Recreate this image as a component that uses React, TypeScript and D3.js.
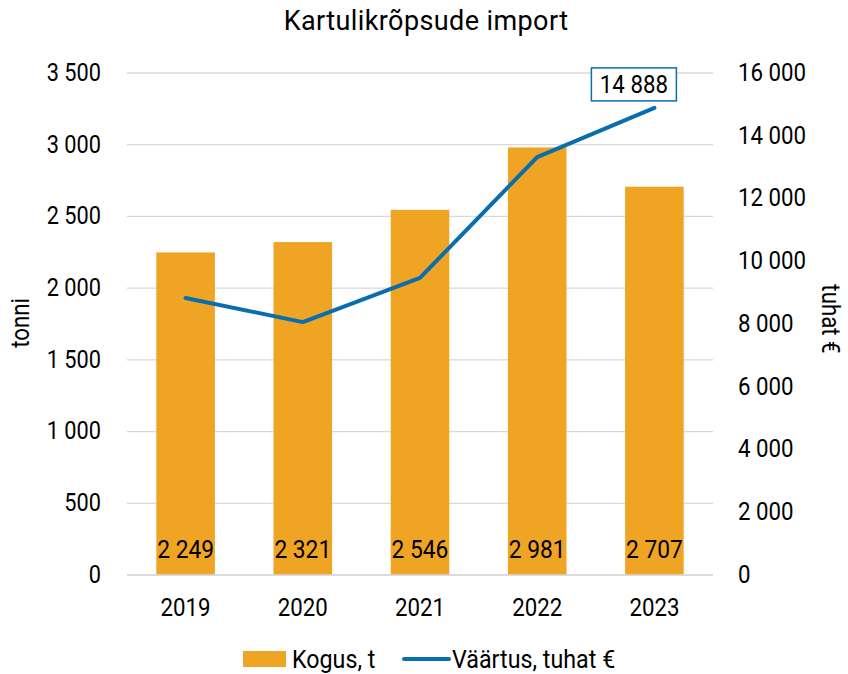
import React from "react";
import * as d3 from "d3";

const years = ["2019", "2020", "2021", "2022", "2023"];
const kogus = [2249, 2321, 2546, 2981, 2707];
const vaartus = [8830, 8060, 9470, 13320, 14888];
const leftTicks = [0, 500, 1000, 1500, 2000, 2500, 3000, 3500];
const rightTicks = [0, 2000, 4000, 6000, 8000, 10000, 12000, 14000, 16000];

const W = 848, H = 674;
const M = { left: 127, right: 713, top: 73, bottom: 575 };
const FONT = "Roboto, sans-serif";
const SX = 0.88;
const fmt = (v: number) => d3.format(",")(v).replace(/,/g, " ");

function T(props: { x: number; y: number; anchor?: string; size?: number; rot?: number; sx?: number; ls?: number; children: React.ReactNode }) {
  const { x, y, anchor = "middle", size = 25.3, rot = 0, sx = SX, ls = 0, children } = props;
  return (
    <text
      transform={`translate(${x},${y}) rotate(${rot}) scale(${sx},1)`}
      dy="0.35em"
      textAnchor={anchor}
      fontSize={size}
      letterSpacing={ls}
      fill="#000"
    >
      {children}
    </text>
  );
}

export default function App() {
  const x = d3.scaleBand().domain(years).range([M.left, M.right]).paddingInner(0.5).paddingOuter(0.25);
  const yL = d3.scaleLinear().domain([0, 3500]).range([M.bottom, M.top]);
  const yR = d3.scaleLinear().domain([0, 16000]).range([M.bottom, M.top]);
  const cx = (i: number) => x(years[i])! + x.bandwidth() / 2;
  const line = d3.line<number>().x((_, i) => cx(i)).y((d) => yR(d));
  const last = vaartus.length - 1;
  const lx = cx(last);
  const ly = yR(vaartus[last]);
  return (
    <svg width={W} height={H} style={{ position: "absolute", left: 0, top: 0, fontFamily: FONT }}>
      <rect width={W} height={H} fill="#fff" />
      <T x={426} y={21} size={27} sx={1} ls={0.4}>Kartulikrõpsude import</T>
      {leftTicks.map((t) => (
        <g key={"l" + t}>
          <line x1={M.left} x2={M.right} y1={yL(t)} y2={yL(t)} stroke="#d9d9d9" strokeWidth={1.3} />
          <T x={101} y={yL(t) - 1} anchor="end" sx={0.86}>{fmt(t)}</T>
        </g>
      ))}
      {rightTicks.map((t) => (
        <T key={"r" + t} x={738} y={yR(t) - 1} anchor="start">{fmt(t)}</T>
      ))}
      <T x={20} y={323} rot={-90}>tonni</T>
      <T x={831} y={319} rot={90}>tuhat €</T>
      {kogus.map((v, i) => (
        <g key={"b" + i}>
          <rect x={x(years[i])} y={yL(v)} width={x.bandwidth()} height={M.bottom - yL(v)} fill="#F0A424" />
        </g>
      ))}
      <line x1={M.left} x2={M.right} y1={M.bottom} y2={M.bottom} stroke="#d9d9d9" strokeWidth={1.5} />
      <path d={line(vaartus)!} fill="none" stroke="#0A6EAE" strokeWidth={4} strokeLinecap="round" strokeLinejoin="round" />
      {kogus.map((v, i) => (
        <g key={"t" + i}>
          <T x={cx(i)} y={549} sx={0.9}>{fmt(v)}</T>
          <T x={cx(i)} y={607}>{years[i]}</T>
        </g>
      ))}
      <rect x={lx - 63} y={ly - 40} width={85} height={33} fill="#fff" stroke="#0A6EAE" strokeWidth={1.5} />
      <T x={lx - 20.5} y={ly - 23.5}>{fmt(vaartus[last])}</T>
      <rect x={243} y={651} width={43} height={16} fill="#F0A424" />
      <T x={292} y={659} anchor="start" sx={0.92}>Kogus, t</T>
      <line x1={404} x2={449} y1={659} y2={659} stroke="#0A6EAE" strokeWidth={4} strokeLinecap="round" />
      <T x={452} y={659} anchor="start" sx={0.92}>Väärtus, tuhat €</T>
    </svg>
  );
}
